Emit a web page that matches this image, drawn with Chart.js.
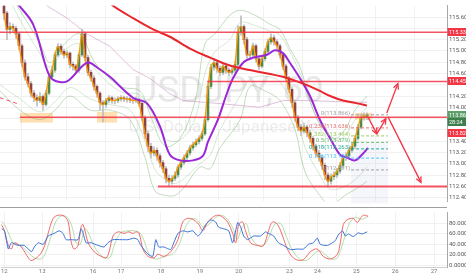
<!DOCTYPE html>
<html>
<head>
<meta charset="utf-8">
<script src="https://cdn.jsdelivr.net/npm/chart.js@4.4.1/dist/chart.umd.min.js"></script>
<style>
    html, body { margin: 0; padding: 0; background: #fff; }
    #wrap { position: relative; width: 466px; height: 275px; overflow: hidden; }
    #price-canvas { position: absolute; left: 0; top: 0; }
    #osc-canvas { position: absolute; left: 0; top: 207px; }
</style>
</head>
<body>
<div id="wrap">
    <canvas id="price-canvas" width="466" height="207"></canvas>
    <canvas id="osc-canvas" width="466" height="68"></canvas>
</div>
<script>
// USDJPY, 60 -- hourly candles, one index per candle
const dayTickPos = [-0.33, 12.33, 29.33, 38.67, 52, 65, 78, 95, 104.33, 117.33, 130.33, 143.33];
const dayTickLabels = ['12', '13', '16', '17', '18', '19', '20', '23', '24', '25', '26', '27'];

const priceTicks = [112.4, 112.6, 112.8, 113.0, 113.2, 113.4, 113.6, 113.8, 114.0,
    114.2, 114.4, 114.6, 114.8, 115.0, 115.2, 115.4, 115.6];
const hiddenPriceTicks = [113.6, 113.8, 114.4, 115.4]; // covered by the tags
const oscTicks = [0, 20, 40, 60, 80];

const closes = [
    115.67, 115.38, 115.43, 115.40, 115.30, 115.09, 114.79, 114.54, 114.42, 114.25,
    114.17, 114.12, 114.19, 114.05, 114.25, 114.54, 114.66, 114.93, 115.08, 114.99,
    114.93, 114.96, 114.76, 114.73, 114.66, 114.93, 115.30, 114.88, 114.62, 114.52,
    114.37, 114.25, 114.08, 114.05, 114.12, 114.17, 114.12, 114.12, 114.15, 114.17,
    114.15, 114.15, 114.13, 114.12, 114.13, 114.07, 113.82, 113.53, 113.31, 113.19,
    113.24, 113.14, 113.02, 112.91, 112.74, 112.69, 112.74, 112.80, 112.94, 113.02,
    113.11, 113.19, 113.28, 113.34, 113.39, 113.45, 113.53, 113.78, 114.37, 114.71,
    114.79, 114.69, 114.62, 114.73, 114.66, 114.62, 114.66, 114.76, 115.33, 115.43,
    115.20, 114.93, 114.93, 115.09, 114.86, 114.73, 114.86, 114.99, 115.16, 115.23,
    115.16, 115.09, 114.93, 114.73, 114.52, 114.32, 114.08, 113.82, 113.65, 113.58,
    113.65, 113.55, 113.45, 113.31, 113.19, 113.11, 112.97, 112.80, 112.69, 112.77,
    112.80, 112.87, 112.97, 113.11, 113.14, 113.24, 113.31, 113.45, 113.65, 113.82,
    113.84, 113.866,
];
const highs = [
    115.85, 115.70, 115.50, 115.48, 115.44, 115.33, 115.12, 114.84, 114.60, 114.46,
    114.30, 114.22, 114.26, 114.22, 114.30, 114.58, 114.72, 114.98, 115.13, 115.12,
    115.03, 115.00, 114.98, 114.80, 114.76, 114.97, 115.38, 115.32, 114.92, 114.66,
    114.56, 114.40, 114.28, 114.12, 114.16, 114.21, 114.20, 114.17, 114.19, 114.21,
    114.20, 114.19, 114.18, 114.17, 114.18, 114.16, 114.09, 113.85, 113.58, 113.36,
    113.30, 113.28, 113.18, 113.06, 112.95, 112.80, 112.79, 112.86, 112.98, 113.07,
    113.16, 113.24, 113.33, 113.39, 113.44, 113.50, 113.58, 113.83, 114.42, 114.76,
    114.85, 114.82, 114.73, 114.78, 114.77, 114.70, 114.71, 114.82, 115.45, 115.62,
    115.46, 115.24, 114.99, 115.14, 115.12, 114.90, 114.90, 115.04, 115.21, 115.30,
    115.28, 115.20, 115.12, 114.96, 114.76, 114.55, 114.35, 114.12, 113.86, 113.70,
    113.72, 113.68, 113.59, 113.48, 113.35, 113.24, 113.15, 113.01, 112.84, 112.82,
    112.86, 112.92, 113.02, 113.16, 113.20, 113.29, 113.36, 113.50, 113.70, 113.87,
    113.90, 113.90,
];
const lows = [
    115.55, 115.20, 115.30, 115.33, 115.22, 115.02, 114.72, 114.48, 114.36, 114.18,
    114.10, 114.02, 114.08, 113.95, 114.02, 114.22, 114.50, 114.62, 114.90, 114.94,
    114.87, 114.88, 114.70, 114.66, 114.60, 114.62, 114.90, 114.82, 114.56, 114.46,
    114.30, 114.18, 113.95, 113.74, 114.00, 114.08, 114.07, 114.06, 114.08, 114.11,
    114.10, 114.09, 114.08, 114.07, 114.08, 114.02, 113.76, 113.45, 113.22, 113.10,
    113.14, 113.06, 112.94, 112.84, 112.66, 112.60, 112.64, 112.70, 112.76, 112.90,
    112.98, 113.06, 113.15, 113.24, 113.30, 113.35, 113.41, 113.50, 113.75, 114.33,
    114.66, 114.62, 114.56, 114.58, 114.60, 114.56, 114.58, 114.62, 114.72, 115.28,
    115.12, 114.86, 114.86, 114.89, 114.80, 114.67, 114.70, 114.82, 114.95, 115.12,
    115.10, 115.03, 114.87, 114.67, 114.46, 114.26, 114.00, 113.75, 113.58, 113.50,
    113.54, 113.48, 113.38, 113.24, 113.12, 113.04, 112.90, 112.72, 112.60, 112.64,
    112.72, 112.76, 112.83, 112.93, 113.06, 113.10, 113.20, 113.27, 113.42, 113.62,
    113.77, 113.78,
];
// hourly fx candles open where the previous one closed
const opens = [115.80].concat(closes.slice(0, -1));

// moving averages / bands as [index, price]
const purpleMa = [[4.3, 115.85], [9.7, 115.47], [14.3, 114.67], [16.3, 114.49], [21, 114.46],
    [27.7, 114.79], [32, 114.67], [35.3, 114.54], [43, 114.17], [47.7, 114.07], [52, 113.66],
    [55.3, 113.16], [58.7, 113.06], [63, 113.06], [66.3, 113.14], [68, 113.39], [71.3, 113.78],
    [74, 114.20], [76.3, 114.51], [79.7, 114.79], [83, 114.88], [87.7, 114.93], [90.3, 115.01],
    [93, 114.96], [95.3, 114.79], [98.7, 114.51], [102, 114.20], [105.3, 113.78], [108.7, 113.45],
    [112, 113.16], [114.3, 113.11], [117, 113.06], [119.3, 113.16], [121.3, 113.28]];
const redMa = [[34.7, 115.89], [36.3, 115.80], [43, 115.58], [49.7, 115.38], [55.3, 115.25],
    [62, 115.04], [68.7, 114.88], [75.3, 114.74], [82, 114.66], [88.7, 114.59], [93, 114.54],
    [97.7, 114.46], [102, 114.37], [105.3, 114.29], [108.7, 114.20], [113, 114.12],
    [117.7, 114.07], [121, 114.03]];
const mauveMa = [[13, 115.85], [14.3, 115.80], [21, 115.58], [27.7, 115.30], [35.3, 115.08],
    [43, 114.67], [48.7, 114.51], [55.3, 114.24], [59.7, 114.12], [71, 114.07], [85.3, 114.00],
    [93, 114.12], [102, 114.12], [115.3, 114.09], [121, 114.09]];
const bandUpper = [[2, 116.0], [5.3, 115.72], [12, 115.13], [15.3, 114.79], [20.3, 115.13],
    [25.3, 115.30], [30.3, 114.79], [38.7, 114.37], [45.3, 114.29], [48.7, 113.87],
    [53.7, 113.31], [58.7, 113.45], [63.7, 114.12], [67, 115.13], [70.3, 115.30],
    [75.3, 115.63], [78.7, 115.72], [83.7, 115.63], [88.7, 115.47], [92, 115.38],
    [95.3, 115.04], [98.7, 114.71], [102, 114.12], [105.3, 113.70], [110.3, 113.45],
    [113.7, 113.61], [117, 113.95], [121, 114.20]];
const bandLower = [[-1.3, 114.29], [5.3, 113.95], [12, 113.78], [17, 113.95], [22, 114.20],
    [28.7, 113.95], [35.3, 113.95], [42, 113.78], [47, 113.11], [50.3, 112.52], [53.7, 112.44],
    [57, 112.44], [60.3, 112.60], [65.3, 112.94], [68.7, 112.91], [72, 113.28], [78.7, 113.78],
    [82, 114.37], [87, 114.29], [92, 114.12], [97, 113.61], [100.3, 112.86], [105.3, 112.44],
    [108.7, 112.27], [113.7, 112.44], [118.7, 112.60], [121, 112.69]];
const innerUpper = [[2, 115.9], [5.3, 115.55], [12, 114.95], [15.3, 114.72], [20.3, 115.02],
    [25.3, 115.12], [30.3, 114.68], [38.7, 114.28], [45.3, 114.22], [48.7, 113.95],
    [53.7, 113.45], [58.7, 113.42], [63.7, 113.80], [67, 114.60], [70.3, 114.98],
    [75.3, 115.20], [78.7, 115.50], [83.7, 115.45], [88.7, 115.35], [92, 115.28],
    [95.3, 114.98], [98.7, 114.60], [102, 114.10], [105.3, 113.72], [110.3, 113.42],
    [113.7, 113.50], [117, 113.78], [121, 114.00]];
const innerLower = [[-1.3, 114.40], [5.3, 114.15], [12, 113.92], [17, 114.10], [22, 114.35],
    [28.7, 114.15], [35.3, 114.05], [42, 113.95], [47, 113.40], [50.3, 112.90], [53.7, 112.72],
    [57, 112.65], [60.3, 112.75], [65.3, 113.00], [68.7, 113.15], [72, 113.60], [78.7, 114.20],
    [82, 114.50], [87, 114.55], [92, 114.45], [97, 113.95], [100.3, 113.30], [105.3, 112.80],
    [108.7, 112.55], [113.7, 112.60], [118.7, 112.80], [121, 112.95]];

// drawings
const levelPrices = [115.332, 114.458, 113.825, 112.595];
const levelStarts = [-1.4, 67.7, 5.3, 51.3];
const levelEnd = 147.7;
const trendDash = [[-1.4, 114.17], [5.3, 114.05]];
const highlightBoxes = [[5.3, 16.3, 113.90, 113.73], [31, 37.7, 113.92, 113.73], [117, 122.7, 113.90, 113.78]];
const forecastZone = [115.7, 128, 112.3, 113.38];
const fibRatios = [0, 0.236, 0.382, 0.5, 0.618, 0.786, 1];
const fibHigh = 113.866;
const fibLow = 112.891;
const fibSpan = [115.7, 128];
const arrowPaths = [
    [[121.3, 113.83], [124.3, 113.53]],
    [[124.3, 113.53], [127.3, 113.80]],
    [[127.6, 113.90], [131.3, 114.42]],
    [[128, 113.83], [139, 112.67]],
];
const lastPrice = 113.866;
const countdown = '28:24';
const alertPrice = 113.825;

// lower panel, [index, value]
const stochK = [[-1.3, 78], [-0.3, 66], [1, 38], [2, 31], [3, 43], [5.3, 35], [7.7, 14], [8.7, 9],
    [11, 17], [12.7, 31], [14.3, 61], [16, 90], [17.7, 96], [19.7, 94], [21, 83], [22, 45],
    [23, 31], [24.3, 38], [25.3, 73], [26, 78], [27.7, 43], [29.7, 26], [32, 17], [33.7, 14],
    [34.7, 26], [36, 56], [37.7, 64], [39.7, 61], [41.3, 64], [42.7, 61], [43.7, 64], [44.7, 61],
    [46, 31], [47.7, 17], [49.7, 14], [51, 21], [53, 17], [55.3, 26], [57.7, 49], [59.3, 83],
    [61, 90], [63, 87], [64.7, 78], [66, 66], [67.7, 83], [69.3, 92], [71, 96], [72.7, 92],
    [74.3, 83], [76, 61], [77, 43], [78, 78], [79.3, 83], [80.3, 66], [82, 43], [84.3, 38],
    [86.3, 38], [88, 66], [89.3, 83], [91, 78], [92.7, 56], [94.3, 31], [96.3, 14], [98.7, 9],
    [100.3, 14], [102, 26], [104.3, 31], [106.3, 17], [108.7, 12], [111, 21], [112, 43], [113, 78],
    [114.3, 87], [116.3, 90], [117.7, 82], [118.7, 90], [119.7, 96], [121.3, 94]];
const stochD = [[-1.3, 85], [0, 75], [1.5, 55], [3, 40], [5, 38], [7, 28], [9.5, 15], [12, 12],
    [13.5, 25], [15, 50], [17, 85], [19, 95], [21, 90], [22.5, 70], [23.5, 45], [25, 40],
    [26.5, 70], [27.5, 65], [29, 45], [31, 25], [33, 15], [35, 15], [36.5, 40], [38.5, 62],
    [41, 66], [43, 66], [45, 62], [46.5, 45], [48, 22], [50, 12], [52, 14], [54, 18], [56, 22],
    [58, 38], [60, 70], [62, 88], [64, 88], [66, 74], [68, 78], [70, 90], [72, 96], [74, 90],
    [76, 72], [77.5, 50], [79, 70], [80.5, 80], [82, 55], [84, 40], [86, 36], [88, 52], [90, 78],
    [92, 80], [93.5, 62], [95, 40], [97, 20], [99, 10], [101, 10], [103, 20], [105, 28], [107, 20],
    [109, 12], [111, 14], [113, 45], [115, 80], [117, 92], [119, 88], [121.3, 94]];
const rsi = [[-1.3, 70], [-0.3, 66], [1, 31], [2, 43], [4.3, 38], [6.3, 38], [8.7, 26], [9.7, 35],
    [11, 43], [12.7, 40], [14.3, 56], [16.3, 61], [18, 66], [19.3, 61], [20.3, 49], [22, 49],
    [24.3, 49], [25.3, 70], [26, 61], [27, 43], [28.7, 43], [31, 38], [33, 35], [34.3, 43],
    [36, 49], [38.7, 49], [41, 49], [43, 52], [44.3, 49], [45.3, 38], [47.7, 21], [49.3, 17],
    [50.3, 49], [51.3, 35], [53, 35], [55.3, 30], [56.3, 43], [57.7, 61], [59.3, 66], [61, 64],
    [62.7, 66], [64.3, 56], [65.3, 61], [67, 78], [68.7, 87], [70.3, 83], [71.3, 73], [73, 70],
    [74.7, 66], [76, 43], [77.7, 82], [78.7, 73], [79.7, 56], [81, 49], [83, 56], [85.3, 56],
    [87, 64], [88, 61], [89.7, 56], [91.3, 43], [93, 38], [95.3, 30], [97.7, 31], [99.7, 31],
    [101.3, 40], [103, 43], [104.3, 52], [105.3, 40], [107.7, 38], [109.3, 43], [110.3, 47],
    [111.3, 58], [112.7, 66], [113.7, 56], [114.7, 60], [116.3, 55], [118, 62], [119.3, 60],
    [121, 64]];

const X_MIN = -1.33;
const X_MAX = 147.67;
const FONT = 'Roboto, "Liberation Sans", sans-serif';
const UP = '#4e8a4a';
const DOWN = '#8e4242';
const LEVEL_RED = 'rgba(242, 54, 69, 0.85)';
const BAND_GREEN = 'rgba(120, 180, 110, 0.45)';
const fibColors = ['#9e9e9e', '#e57373', '#9ccc65', '#66bb6a', '#26a69a', '#4fc3f7', '#9e9e9e'];

const pts = arr => arr.map(p => ({x: p[0], y: p[1]}));
const fibPrice = r => fibHigh - r * (fibHigh - fibLow);

function lineDs(data, color, width, order, extra) {
    'use strict';
    return Object.assign({
        type: 'line',
        data: data,
        borderColor: color,
        borderWidth: width,
        pointRadius: 0,
        fill: false,
        tension: 0.35,
        order: order,
    }, extra || {});
}

function xScale(showTicks) {
    return {
        type: 'linear',
        min: X_MIN,
        max: X_MAX,
        offset: false,
        afterBuildTicks: ax => { ax.ticks = dayTickPos.map(v => ({value: v})); },
        afterFit: ax => { ax.height = showTicks ? 8 : 0; },
        ticks: {
            display: showTicks,
            autoSkip: false,
            maxRotation: 0,
            padding: 1,
            color: '#777',
            font: {family: FONT, size: 6},
            callback: (v, i) => dayTickLabels[i],
        },
        grid: {color: '#f1f1f1', drawTicks: false},
        border: {display: showTicks, color: '#cfcfcf'},
    };
}

function tag(ctx, x, yc, text, bg) {
    ctx.fillStyle = bg;
    ctx.fillRect(x, Math.round(yc) - 4, 19, 8);
    ctx.fillStyle = '#fff';
    ctx.font = '5.5px ' + FONT;
    ctx.textAlign = 'left';
    ctx.textBaseline = 'middle';
    ctx.fillText(text, x + 1.5, Math.round(yc) + 0.5);
}

const pricePlugin = {
    id: 'priceDrawings',
    beforeDatasetsDraw(chart) {
        const {ctx, chartArea: a, scales: {x, y}} = chart;
        ctx.save();
        // watermark
        const cx = (a.left + a.right) / 2 + 5;
        ctx.textAlign = 'center';
        ctx.textBaseline = 'alphabetic';
        ctx.fillStyle = 'rgba(120, 120, 120, 0.17)';
        ctx.font = '37px ' + FONT;
        ctx.fillText('USDJPY, 60', cx, a.top + a.height * 0.49);
        ctx.font = '17px ' + FONT;
        ctx.fillStyle = 'rgba(120, 120, 120, 0.14)';
        ctx.fillText('U.S. Dollar / Japanese Yen', cx, a.top + a.height * 0.645);
        // projection zone
        const z = forecastZone;
        ctx.fillStyle = 'rgba(121, 134, 203, 0.08)';
        ctx.fillRect(x.getPixelForValue(z[0]), y.getPixelForValue(z[3]),
            x.getPixelForValue(z[1]) - x.getPixelForValue(z[0]),
            y.getPixelForValue(z[2]) - y.getPixelForValue(z[3]));
        // highlighted zones
        ctx.fillStyle = 'rgba(255, 167, 38, 0.35)';
        highlightBoxes.forEach(b => {
            const x0 = x.getPixelForValue(b[0]);
            const y0 = y.getPixelForValue(b[2]);
            ctx.fillRect(x0, y0, x.getPixelForValue(b[1]) - x0, y.getPixelForValue(b[3]) - y0);
        });
        ctx.restore();
    },
    afterDatasetsDraw(chart) {
        const {ctx, scales: {x, y}} = chart;
        ctx.save();
        // fibonacci labels
        ctx.font = '6px ' + FONT;
        ctx.textAlign = 'right';
        ctx.textBaseline = 'middle';
        fibRatios.forEach((r, k) => {
            const p = fibPrice(r);
            ctx.fillStyle = fibColors[k];
            ctx.fillText(r + '(' + p.toFixed(3) + ')', x.getPixelForValue(fibSpan[0]) - 1,
                y.getPixelForValue(p) - 1.5);
        });
        // arrow heads
        ctx.strokeStyle = '#f23645';
        ctx.lineWidth = 1.3;
        arrowPaths.forEach(path => {
            const x0 = x.getPixelForValue(path[0][0]), y0 = y.getPixelForValue(path[0][1]);
            const x1 = x.getPixelForValue(path[1][0]), y1 = y.getPixelForValue(path[1][1]);
            const ang = Math.atan2(y1 - y0, x1 - x0);
            ctx.beginPath();
            ctx.moveTo(x1 - 6 * Math.cos(ang - 0.45), y1 - 6 * Math.sin(ang - 0.45));
            ctx.lineTo(x1, y1);
            ctx.lineTo(x1 - 6 * Math.cos(ang + 0.45), y1 - 6 * Math.sin(ang + 0.45));
            ctx.stroke();
        });
        ctx.restore();
    },
    afterDraw(chart) {
        const {ctx, chartArea: a, scales: {y}} = chart;
        ctx.save();
        const left = a.right + 0.5;
        tag(ctx, left, y.getPixelForValue(levelPrices[0]), levelPrices[0].toFixed(3), '#f23645');
        tag(ctx, left, y.getPixelForValue(levelPrices[1]), levelPrices[1].toFixed(3), '#f23645');
        const yl = y.getPixelForValue(lastPrice);
        tag(ctx, left, yl, lastPrice.toFixed(3), '#5f9e6a');
        tag(ctx, left, yl + 7.5, countdown, '#3f7f4e');
        tag(ctx, left, Math.max(y.getPixelForValue(alertPrice), yl + 18), alertPrice.toFixed(3), '#f23645');
        ctx.restore();
    },
};

const candleIdx = closes.map((c, i) => i);
const priceDatasets = [];
arrowPaths.forEach(p => priceDatasets.push(lineDs(pts(p), '#f23645', 1.3, 0, {tension: 0})));
fibRatios.forEach((r, k) => priceDatasets.push(lineDs(
    [{x: fibSpan[0], y: fibPrice(r)}, {x: fibSpan[1], y: fibPrice(r)}],
    fibColors[k], 1, 1, {borderDash: [3, 2], tension: 0})));
levelPrices.forEach((p, k) => priceDatasets.push(lineDs(
    [{x: levelStarts[k], y: p}, {x: levelEnd, y: p}],
    LEVEL_RED, k === 3 ? 2 : 1.5, 1, {tension: 0})));
priceDatasets.push(lineDs(pts(trendDash), LEVEL_RED, 1, 1, {borderDash: [4, 3], tension: 0}));
priceDatasets.push(lineDs(pts(redMa), '#e8262b', 2, 2));
priceDatasets.push(lineDs(pts(purpleMa), '#9a27d8', 2, 3));
priceDatasets.push(lineDs(candleIdx.map(i => ({x: i, y: closes[i]})), '#ff9800', 1.3, 4,
    {cubicInterpolationMode: 'monotone'}));
priceDatasets.push({
    type: 'bar',
    data: candleIdx.map(i => ({x: i, y: [opens[i], closes[i]]})),
    backgroundColor: candleIdx.map(i => closes[i] >= opens[i] ? UP : DOWN),
    barThickness: 2,
    grouped: false,
    order: 6,
});
priceDatasets.push({
    type: 'bar',
    data: candleIdx.map(i => ({x: i, y: [lows[i], highs[i]]})),
    backgroundColor: '#bdbdbd',
    barThickness: 1,
    grouped: false,
    order: 7,
});
priceDatasets.push(lineDs(pts(mauveMa), 'rgba(200, 140, 190, 0.55)', 1, 8, {tension: 0}));
priceDatasets.push(lineDs(pts(bandUpper), BAND_GREEN, 1, 8));
priceDatasets.push(lineDs(pts(bandLower), BAND_GREEN, 1, 8));
priceDatasets.push(lineDs(pts(innerUpper), 'rgba(120, 180, 110, 0.3)', 1, 9));
priceDatasets.push(lineDs(pts(innerLower), 'rgba(120, 180, 110, 0.3)', 1, 9));

new Chart(document.getElementById('price-canvas'), {
    type: 'bar',
    data: {datasets: priceDatasets},
    options: {
        responsive: false,
        animation: false,
        events: [],
        layout: {padding: 0},
        plugins: {legend: {display: false}, tooltip: {enabled: false}},
        scales: {
            x: xScale(false),
            y: {
                position: 'right',
                min: 112.333,
                max: 115.802,
                afterBuildTicks: ax => { ax.ticks = priceTicks.map(v => ({value: v})); },
                afterFit: ax => { ax.width = 19; },
                ticks: {
                    autoSkip: false,
                    padding: 2,
                    color: '#555',
                    font: {family: FONT, size: 6},
                    callback: v => hiddenPriceTicks.some(h => Math.abs(h - v) < 1e-6) ? '' : v.toFixed(3),
                },
                grid: {color: '#f1f1f1', drawTicks: false},
                border: {color: '#a8a8a8'},
            },
        },
    },
    plugins: [pricePlugin],
});

const oscPlugin = {
    id: 'oscFrame',
    afterDraw(chart) {
        const {ctx, chartArea: a} = chart;
        ctx.save();
        ctx.strokeStyle = '#a0a0a0';
        ctx.lineWidth = 1;
        ctx.beginPath();
        ctx.moveTo(0, 0.5);
        ctx.lineTo(a.right, 0.5);
        ctx.stroke();
        ctx.restore();
    },
};

new Chart(document.getElementById('osc-canvas'), {
    type: 'line',
    data: {
        datasets: [
            lineDs(pts(rsi), '#3b73d9', 1, 0, {tension: 0.2}),
            lineDs(pts(stochK), 'rgba(240, 80, 80, 0.85)', 1, 1, {tension: 0.35}),
            lineDs(pts(stochD), 'rgba(130, 200, 120, 0.6)', 1, 2, {tension: 0.35}),
        ],
    },
    options: {
        responsive: false,
        animation: false,
        events: [],
        layout: {padding: 0},
        plugins: {legend: {display: false}, tooltip: {enabled: false}},
        scales: {
            x: xScale(true),
            y: {
                position: 'right',
                min: -3.5,
                max: 101,
                afterBuildTicks: ax => { ax.ticks = oscTicks.map(v => ({value: v})); },
                afterFit: ax => { ax.width = 19; },
                ticks: {
                    autoSkip: false,
                    padding: 2,
                    color: '#555',
                    font: {family: FONT, size: 6},
                    callback: v => v.toFixed(4),
                },
                grid: {color: '#f1f1f1', drawTicks: false},
                border: {color: '#a8a8a8'},
            },
        },
    },
    plugins: [oscPlugin],
});
</script>
</body>
</html>
